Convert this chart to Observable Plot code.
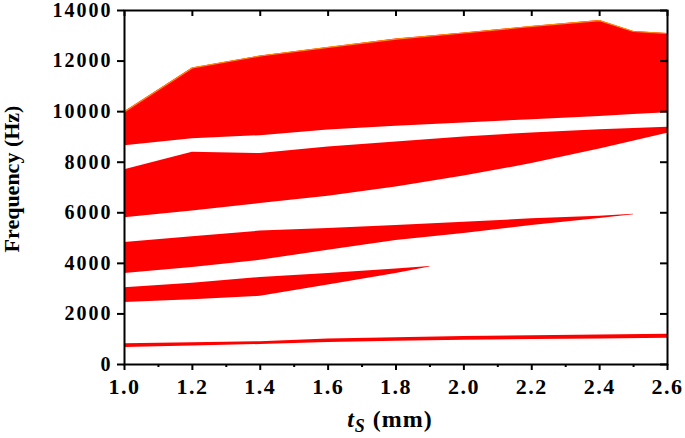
<!DOCTYPE html>
<html>
<head>
<meta charset="utf-8">
<script src="https://cdn.jsdelivr.net/npm/d3@7"></script>
<script src="https://cdn.jsdelivr.net/npm/@observablehq/plot@0.6"></script>
<style>
  html, body { margin: 0; padding: 0; background: #fff; }
  svg { display: block; }
</style>
</head>
<body>
<div id="chart"></div>
<script>
// Band gaps (Hz) versus t_S (mm)
const xTicks = [1.0, 1.2, 1.4, 1.6, 1.8, 2.0, 2.2, 2.4, 2.6];
const xMinorTicks = [1.1, 1.3, 1.5, 1.7, 1.9, 2.1, 2.3, 2.5];
const yTicks = [0, 2000, 4000, 6000, 8000, 10000, 12000, 14000];

const band1X  = [1.0, 1.2, 1.4, 1.6, 1.8, 2.0, 2.2, 2.4, 2.5, 2.6];
const band1Hi = [10000, 11730, 12200, 12540, 12870, 13110, 13370, 13600, 13170, 13090];
const band1Lo = [8655, 8930, 9050, 9270, 9420, 9550, 9680, 9810, 9885, 9955];

const band2X  = [1.0, 1.2, 1.4, 1.6, 1.8, 2.0, 2.2, 2.4, 2.6];
const band2Hi = [7705, 8390, 8340, 8600, 8800, 9000, 9155, 9285, 9380];
const band2Lo = [5800, 6075, 6365, 6655, 7020, 7450, 7945, 8520, 9145];

const band3X  = [1.0, 1.2, 1.4, 1.6, 1.8, 2.0, 2.2, 2.4, 2.5];
const band3Hi = [4820, 5050, 5275, 5380, 5500, 5630, 5760, 5860, 5940];
const band3Lo = [3600, 3840, 4120, 4520, 4900, 5180, 5500, 5770, 5920];

const band4X  = [1.0, 1.2, 1.4, 1.6, 1.8, 1.9];
const band4Hi = [3035, 3210, 3445, 3600, 3775, 3880];
const band4Lo = [2455, 2560, 2695, 3140, 3600, 3860];

const band5X  = [1.0, 1.2, 1.4, 1.6, 1.8, 2.0, 2.2, 2.4, 2.6];
const band5Hi = [820, 860, 900, 1010, 1060, 1110, 1140, 1170, 1200];
const band5Lo = [670, 730, 790, 870, 920, 960, 990, 1010, 1040];

const bandsList = [
  ["b1", band1X, band1Lo, band1Hi],
  ["b2", band2X, band2Lo, band2Hi],
  ["b3", band3X, band3Lo, band3Hi],
  ["b4", band4X, band4Lo, band4Hi],
  ["b5", band5X, band5Lo, band5Hi]
];
const rows = bandsList.flatMap(([id, xs, lo, hi]) =>
  xs.map((x, i) => ({band: id, x, lo: lo[i], hi: hi[i]})));
const topEdge = band1X.map((x, i) => ({x, y: band1Hi[i]}));

const W = 685, H = 438;
const mL = 124, mR = 18, mT = 10, mB = 74;
const innerW = W - mL - mR, innerH = H - mT - mB;

const serif = "'Liberation Serif', 'Times New Roman', serif";
const fmtX = d => d.toFixed(1);
const fmtY = d => String(d);

const plot = Plot.plot({
  width: W,
  height: H,
  marginLeft: mL,
  marginRight: mR,
  marginTop: mT,
  marginBottom: mB,
  style: {fontFamily: serif, fontWeight: "bold", color: "#000", background: "#fff"},
  x: {domain: [1.0, 2.6], axis: null},
  y: {domain: [0, 14000], axis: null},
  marks: [
    Plot.areaY(rows, {x: "x", y1: "lo", y2: "hi", z: "band", fill: "#ff0000", curve: "linear"}),
    Plot.line(topEdge, {x: "x", y: "y", stroke: "#ff8c00", strokeWidth: 1.2}),
    Plot.axisX(xTicks, {anchor: "bottom", tickSize: 6, tickPadding: 8, strokeWidth: 2,
      fontSize: 22, tickFormat: fmtX, label: null}),
    Plot.axisX(xMinorTicks, {anchor: "bottom", tickSize: 3, strokeWidth: 2,
      tickFormat: () => "", label: null}),
    Plot.axisY(yTicks, {anchor: "left", tickSize: 7, tickPadding: 5, strokeWidth: 2,
      fontSize: 20, tickFormat: fmtY, label: null}),
    Plot.ruleX(xTicks, {x: d => d, insetBottom: innerH - 6, stroke: "#000", strokeWidth: 2}),
    Plot.ruleY(yTicks, {y: d => d, insetLeft: innerW - 7, stroke: "#000", strokeWidth: 2}),
    Plot.frame({stroke: "#000", strokeWidth: 2})
  ]
});

document.getElementById("chart").appendChild(plot);

const svg = d3.select(plot);
const xLabSet = new Set(xTicks.map(fmtX));
const yLabSet = new Set(yTicks.map(fmtY));
svg.selectAll("text").each(function () {
  const t = this.textContent;
  if (xLabSet.has(t)) {
    this.style.letterSpacing = "1.5px";
  } else if (yLabSet.has(t)) {
    this.style.letterSpacing = "2px";
  }
});

// y-axis title
svg.append("text")
  .attr("transform", "translate(19,179) rotate(-90)")
  .attr("text-anchor", "middle")
  .attr("font-family", serif)
  .attr("font-weight", "bold")
  .attr("font-size", 22)
  .attr("fill", "#000")
  .text("Frequency (Hz)");

// x-axis title: t_S (mm)
const xt = svg.append("text")
  .attr("x", 390)
  .attr("y", 427)
  .attr("text-anchor", "middle")
  .attr("font-family", serif)
  .attr("font-weight", "bold")
  .attr("font-size", 24)
  .attr("letter-spacing", "1px")
  .attr("fill", "#000");
xt.append("tspan").attr("font-style", "italic").text("t");
xt.append("tspan").attr("font-style", "italic").attr("font-size", 18).attr("dy", 5).text("S");
xt.append("tspan").attr("dy", -5).text(" (mm)");
</script>
</body>
</html>
